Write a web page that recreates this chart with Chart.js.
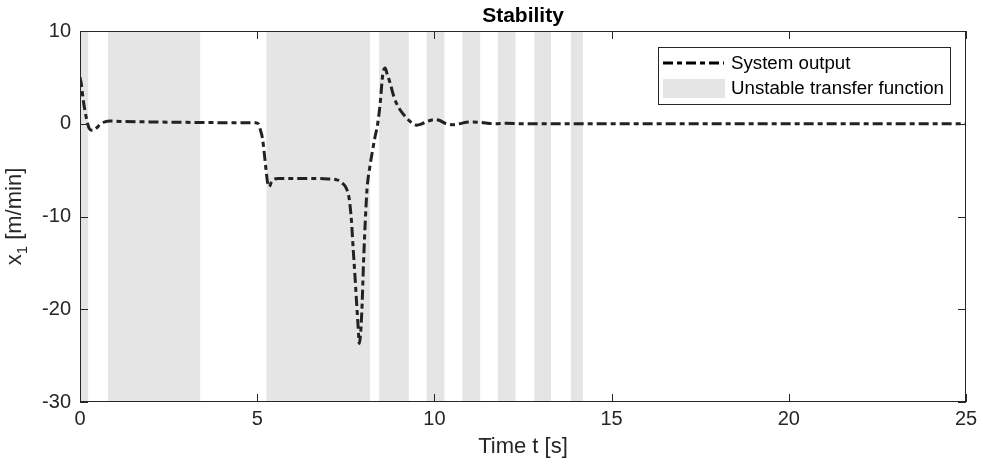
<!DOCTYPE html>
<html>
<head>
<meta charset="utf-8">
<script src="https://cdn.jsdelivr.net/npm/chart.js@4.4.1/dist/chart.umd.min.js"></script>
<style>
  html, body { margin: 0; padding: 0; background: #fff; }
  #wrap { width: 983px; height: 464px; position: relative; }
</style>
</head>
<body>
<div id="wrap"><canvas id="canvas"></canvas></div>
<script>
// time [s] and system output x1 [m/min]
var time_s = [0, 0.04, 0.09, 0.15, 0.21, 0.26, 0.32, 0.38, 0.47, 0.56, 0.7, 0.85, 1.13, 2.0, 3.0, 4.0, 4.95,
    5.03, 5.1, 5.15, 5.2, 5.25, 5.3, 5.34, 5.4, 5.47, 5.6, 6.0, 6.5, 7.0, 7.25, 7.4, 7.52, 7.6, 7.66, 7.71,
    7.76, 7.8, 7.85, 7.88, 7.92, 7.96, 8.0, 8.05, 8.1, 8.18, 8.25, 8.32, 8.4, 8.47, 8.54, 8.61, 8.67, 8.75,
    8.85, 8.93, 9.05, 9.22, 9.4, 9.5, 9.65, 9.8, 10.0, 10.15, 10.3, 10.5, 10.7, 10.9, 11.1, 11.4, 11.7,
    12.0, 12.5, 13.0, 25];
var x1_out = [5.0, 4.2, 2.6, 1.2, 0.1, -0.5, -0.7, -0.7, -0.45, -0.1, 0.2, 0.3, 0.25, 0.2, 0.15, 0.12, 0.12,
    0.0, -0.8, -1.6, -3.2, -5.0, -6.5, -6.8, -6.3, -6.0, -5.9, -5.9, -5.9, -5.95, -6.05, -6.4, -7.0, -8.2, -10.5, -13.6,
    -16.5, -19.0, -22.0, -23.7, -22.5, -19.5, -15.0, -10.5, -7.0, -4.6, -3.0, -1.5, 0.0, 2.2, 5.2, 6.0, 5.3, 4.4,
    3.0, 2.2, 1.4, 0.6, 0.0, -0.15, 0.0, 0.25, 0.45, 0.35, 0.05, -0.1, 0.0, 0.15, 0.2, 0.1, 0.0,
    0.05, 0.0, 0.0, 0.0];

// intervals where the transfer function was unstable
var unstable_start = [0, 0.79, 5.26, 8.44, 9.78, 10.79, 11.79, 12.82, 13.85];
var unstable_end   = [0.23, 3.39, 8.18, 9.28, 10.28, 11.29, 12.29, 13.29, 14.19];

var x_ticks = [0, 5, 10, 15, 20, 25];
var y_ticks = [-30, -20, -10, 0, 10];

var fonte = 'Liberation Sans, Arial, Helvetica, sans-serif';
var cinza = '#262626';

var pontos = time_s.map(function (t, i) { return { x: t, y: x1_out[i] }; });

var faixas = {
    id: 'faixas',
    beforeDatasetsDraw: function (chart) {
        var c = chart.ctx, a = chart.chartArea, sx = chart.scales.x;
        c.save();
        c.fillStyle = '#e5e5e5';
        for (var i = 0; i < unstable_start.length; i++) {
            var x0 = sx.getPixelForValue(unstable_start[i]);
            var x1 = sx.getPixelForValue(unstable_end[i]);
            c.fillRect(x0, a.top, x1 - x0, a.bottom - a.top);
        }
        c.restore();
    },
    afterDraw: function (chart) {
        var c = chart.ctx, a = chart.chartArea, sx = chart.scales.x, sy = chart.scales.y;
        c.save();
        // caixa e ticks para dentro
        c.strokeStyle = cinza;
        c.lineWidth = 1;
        c.strokeRect(a.left + 0.5, a.top + 0.5, a.right - a.left - 1, a.bottom - a.top - 1);
        c.beginPath();
        x_ticks.forEach(function (v) {
            var px = Math.round(sx.getPixelForValue(v)) + 0.5;
            c.moveTo(px, a.bottom); c.lineTo(px, a.bottom - 8);
            c.moveTo(px, a.top); c.lineTo(px, a.top + 8);
        });
        y_ticks.forEach(function (v) {
            var py = Math.round(sy.getPixelForValue(v)) + 0.5;
            c.moveTo(a.left, py); c.lineTo(a.left + 8, py);
            c.moveTo(a.right, py); c.lineTo(a.right - 8, py);
        });
        c.stroke();

        // titulo
        c.fillStyle = '#000';
        c.font = 'bold 21px ' + fonte;
        c.textAlign = 'center';
        c.textBaseline = 'alphabetic';
        c.fillText('Stability', (a.left + a.right) / 2, 22);

        // rotulo y com subscrito
        c.translate(21, (a.top + a.bottom) / 2);
        c.rotate(-Math.PI / 2);
        c.fillStyle = cinza;
        c.font = '22px ' + fonte;
        var w1 = c.measureText('x').width;
        c.font = '15px ' + fonte;
        var w2 = c.measureText('1').width;
        c.font = '22px ' + fonte;
        var w3 = c.measureText(' [m/min]').width;
        var x0 = -(w1 + w2 + w3) / 2;
        c.textAlign = 'left';
        c.fillText('x', x0, 0);
        c.font = '15px ' + fonte;
        c.fillText('1', x0 + w1, 6);
        c.font = '22px ' + fonte;
        c.fillText(' [m/min]', x0 + w1 + w2, 0);
        c.setTransform(1, 0, 0, 1, 0, 0);

        // legenda
        var lx = 658, ly = 47, lw = 292, lh = 57;
        c.fillStyle = '#fff';
        c.fillRect(lx, ly, lw, lh);
        c.strokeStyle = cinza;
        c.strokeRect(lx + 0.5, ly + 0.5, lw, lh);
        c.strokeStyle = '#000';
        c.lineWidth = 3;
        c.setLineDash([10, 4, 5, 4]);
        c.beginPath();
        c.moveTo(663, 63); c.lineTo(724, 63);
        c.stroke();
        c.setLineDash([]);
        c.fillStyle = '#e5e5e5';
        c.fillRect(663, 79, 62, 19);
        c.fillStyle = '#000';
        c.font = '18.7px ' + fonte;
        c.textAlign = 'left';
        c.textBaseline = 'middle';
        c.fillText('System output', 731, 64);
        c.fillText('Unstable transfer function', 731, 89);
        c.restore();
    }
};

var ctx = document.getElementById('canvas').getContext('2d');
var myChart = new Chart(ctx, {
    type: 'line',
    data: {
        datasets: [{
            label: 'System output',
            data: pontos,
            borderColor: '#222',
            backgroundColor: 'transparent',
            borderWidth: 3,
            borderDash: [10, 4, 5, 4],
            pointRadius: 0,
            cubicInterpolationMode: 'monotone',
            fill: false
        }]
    },
    options: {
        responsive: true,
        maintainAspectRatio: false,
        animation: false,
        layout: { padding: { top: 31, right: 17, bottom: 0, left: 0 } },
        plugins: {
            legend: { display: false },
            tooltip: { enabled: false },
            title: { display: false }
        },
        scales: {
            x: {
                type: 'linear',
                min: 0,
                max: 25,
                afterFit: function (s) { s.height = 62; },
                afterBuildTicks: function (s) { s.ticks = x_ticks.map(function (v) { return { value: v }; }); },
                grid: { display: false, drawTicks: false },
                border: { display: false },
                ticks: { padding: 5, color: cinza, font: { family: fonte, size: 20 }, maxRotation: 0 },
                title: { display: true, text: 'Time t [s]', color: cinza, font: { family: fonte, size: 22 }, padding: { top: 0, bottom: 4 } }
            },
            y: {
                min: -30,
                max: 10,
                afterFit: function (s) { s.width = 80; },
                afterBuildTicks: function (s) { s.ticks = y_ticks.map(function (v) { return { value: v }; }); },
                grid: { display: false, drawTicks: false },
                border: { display: false },
                ticks: { padding: 9, color: cinza, font: { family: fonte, size: 20 } }
            }
        }
    },
    plugins: [faixas]
});
</script>
</body>
</html>
